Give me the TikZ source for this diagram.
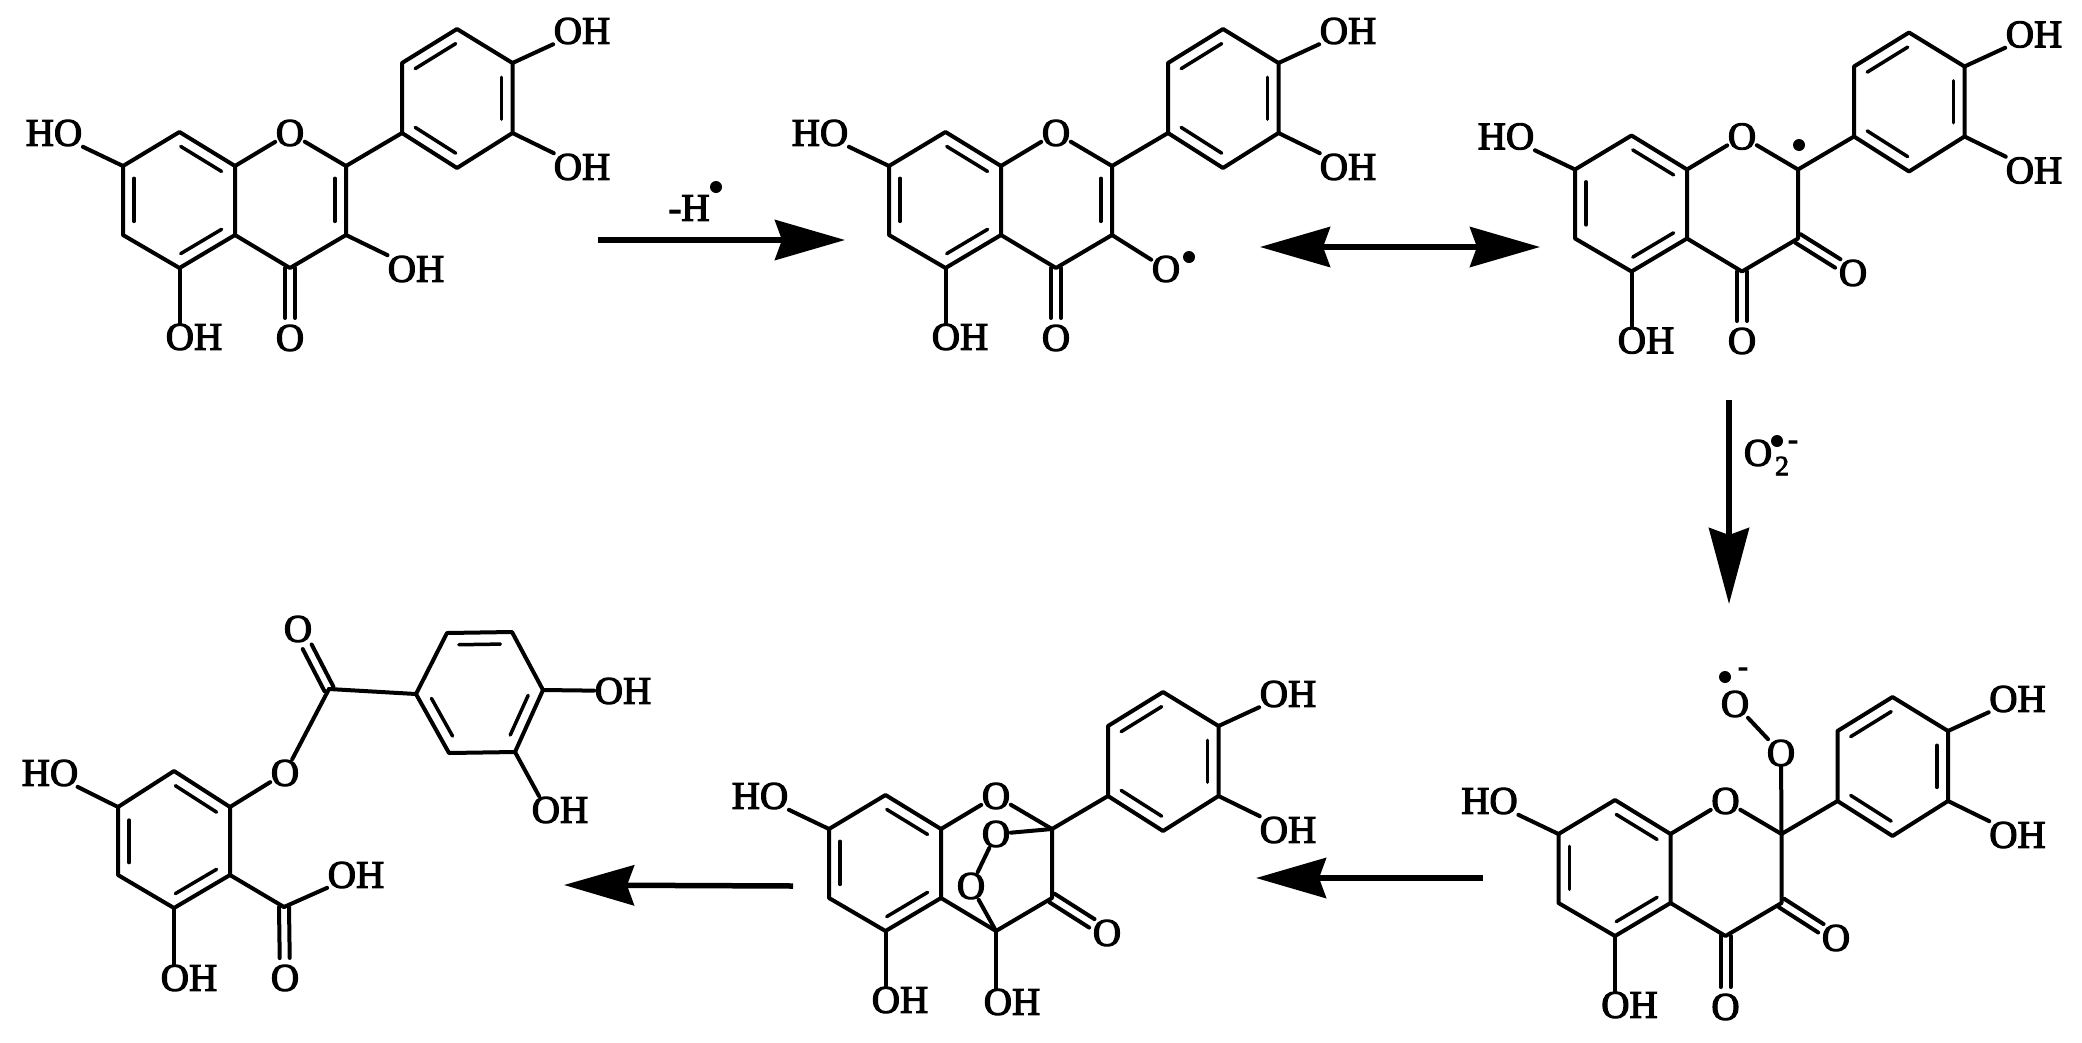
\documentclass[tikz,border=0pt]{standalone}
\usepackage{fontspec}
\setmainfont[FakeBold=3]{Liberation Serif}
\usetikzlibrary{calc,arrows.meta}
\tikzset{
  bond/.style={line width=4pt,line join=round,line cap=round},
  innerbond/.style={line width=3.5pt,line cap=round},
  atom/.style={inner sep=0.5pt,font=\fontsize{39}{39}\selectfont},
  radical/.style={circle,fill=black,inner sep=0pt,minimum size=12pt},
  chg/.style={inner sep=0pt,font=\fontsize{30}{30}\selectfont},
  rxn/.style={line width=5.5pt,-{Stealth[length=70pt,width=40pt,inset=7pt]}},
}
% aromatic inner line: a, b, ring centre, t1, t2
\newcommand{\innerln}[5]{\draw[innerbond] ($(#1)!#4!(#2)!0.2!(#3)$) -- ($(#1)!#5!(#2)!0.2!(#3)$);}
% C=O: carbon, oxygen node, distance to stop before O centre
\newcommand{\carbonyl}[3]{%
  \draw[bond,shorten >=#3] ($(#1)!5pt!90:(#2)$) -- ($(#2)!5pt!-90:(#1)$);
  \draw[bond,shorten >=#3] ($(#1)!5pt!-90:(#2)$) -- ($(#2)!5pt!90:(#1)$);}
% skeleton common to the five flavonoid structures
\newcommand{\flavone}[3]{%
\begin{scope}[shift={(#2,#3)}]
  \coordinate (#1c8a) at (-55,33);   \coordinate (#1c8) at (-110.5,-1);
  \coordinate (#1c7) at (-167,33);   \coordinate (#1c6) at (-167,102);
  \coordinate (#1c5) at (-110.5,135);\coordinate (#1c4a) at (-55,102);
  \coordinate (#1c4) at (0,135);     \coordinate (#1c3) at (56,102);
  \coordinate (#1c2) at (56,33);     \coordinate (#1b1) at (112,0);
  \coordinate (#1b6) at (112,-70);   \coordinate (#1b5) at (167,-104);
  \coordinate (#1b4) at (222.5,-70); \coordinate (#1b3) at (222.5,0);
  \coordinate (#1b2) at (167,35);
  \coordinate (#1ca) at (-111,67);   \coordinate (#1cc) at (0,67);
  \coordinate (#1cb) at (167,-35);
  \node[atom] (#1O) at (0,0) {O};
  \node[atom] (#1HO) at (-236,0) {HO};
  \node[atom] (#1OHa) at (292,-102) {OH};
  \node[atom] (#1OHb) at (292,34) {OH};
  \node[atom] (#1OHc) at (-96,204) {OH};
\end{scope}
\draw[bond] (#1c8a) -- (#1c8) -- (#1c7) -- (#1c6) -- (#1c5) -- (#1c4a) -- cycle;
\draw[bond] (#1c4a) -- (#1c4) -- (#1c3) -- (#1c2) -- (#1b1);
\draw[bond] (#1b1) -- (#1b6) -- (#1b5) -- (#1b4) -- (#1b3) -- (#1b2) -- cycle;
\draw[bond] (#1c8a) -- (#1O);
\draw[bond] (#1c2) -- (#1O);
\draw[bond] (#1c7) -- (#1HO);
\draw[bond] (#1b4) -- (#1OHa);
\draw[bond] (#1b3) -- (#1OHb);
\draw[bond] (#1c5) -- (#1c5 |- #1OHc.north);
\innerln{#1c7}{#1c6}{#1ca}{.1}{.88}
\innerln{#1c8}{#1c8a}{#1ca}{.03}{.95}
\innerln{#1c5}{#1c4a}{#1ca}{.03}{.95}
\innerln{#1b5}{#1b6}{#1cb}{.03}{.95}
\innerln{#1b4}{#1b3}{#1cb}{.13}{.88}
\innerln{#1b2}{#1b1}{#1cb}{.03}{.95}
}
\begin{document}
\begin{tikzpicture}[x=1pt,y=-1pt]
\path[fill=white,use as bounding box] (0,0) rectangle (2082,1042);

% ---------- structure 1
\flavone{a}{290}{133}
\node[atom] (aOH3) at (416,269) {OH};
\node[atom] (aO4) at (290,338) {O};
\draw[bond] (ac3) -- (aOH3);
\carbonyl{ac4}{aO4}{20pt}
\innerln{ac2}{ac3}{acc}{.1}{.88}

% ---------- structure 2
\flavone{b}{1056}{133}
\node[atom] (bO3) at (1166,269) {O};
\node[radical] (bdot) at (1189,257) {};
\node[atom] (bO4) at (1056,338) {O};
\draw[bond] (bc3) -- (bO3);
\carbonyl{bc4}{bO4}{20pt}
\innerln{bc2}{bc3}{bcc}{.1}{.88}

% ---------- structure 3
\flavone{c}{1742}{136.5}
\node[atom] (cO4) at (1742,341) {O};
\node[atom] (cO3) at (1853,273) {O};
\node[radical] (cdot) at (1799,145) {};
\carbonyl{cc4}{cO4}{20pt}
\carbonyl{cc3}{cO3}{18pt}

% ---------- structure 4
\flavone{d}{1725.5}{801}
\node[atom] (dO4) at (1725.5,1007) {O};
\node[atom] (dO3) at (1836,938) {O};
\node[atom] (dOa) at (1781,753) {O};
\node[atom] (dOb) at (1735,704) {O};
\node[radical] (ddot) at (1725,677) {};
\node[chg] (dminus) at (1743,672) {-};
\draw[bond] (dc2) -- (dOa);
\draw[bond] (dOa) -- (dOb);
\carbonyl{dc4}{dO4}{20pt}
\carbonyl{dc3}{dO3}{18pt}

% ---------- structure 5
\flavone{e}{996}{796}
\node[atom] (eO3) at (1107,933) {O};
\node[atom] (eOH4) at (1012,1002) {OH};
\node[atom] (eOa) at (996,834) {O};
\node[atom] (eOb) at (971,886) {O};
\draw[bond] (ec2) -- (eOa);
\draw[bond] (eOa) -- (eOb);
\draw[bond] (eOb) -- (ec4);
\draw[bond] (ec4) -- (ec4 |- eOH4.north);
\carbonyl{ec3}{eO3}{18pt}

% ---------- structure 6
\coordinate (f1) at (174,771); \coordinate (f2) at (230,807);
\coordinate (f3) at (230,875); \coordinate (f4) at (174,908);
\coordinate (f5) at (118,875); \coordinate (f6) at (118,807);
\coordinate (fca) at (174,840);
\coordinate (g1) at (416,694); \coordinate (g2) at (447,633);
\coordinate (g3) at (512,632); \coordinate (g4) at (543,690);
\coordinate (g5) at (515,752); \coordinate (g6) at (449,753);
\coordinate (gc) at (480,692);
\coordinate (fC) at (329,689); \coordinate (fD) at (284,907);
\node[atom] (fHO) at (50,773) {HO};
\node[atom] (fO) at (285,773) {O};
\node[atom] (fOc) at (298,629) {O};
\node[atom] (fOHa) at (623,691) {OH};
\node[atom] (fOHb) at (560,810) {OH};
\node[atom] (fOHc) at (356,875) {OH};
\node[atom] (fOd) at (285,978) {O};
\node[atom] (fOHd) at (189,978) {OH};
\draw[bond] (f1) -- (f2) -- (f3) -- (f4) -- (f5) -- (f6) -- cycle;
\draw[bond] (g1) -- (g2) -- (g3) -- (g4) -- (g5) -- (g6) -- cycle;
\draw[bond] (f6) -- (fHO);
\draw[bond] (f2) -- (fO);
\draw[bond] (fO) -- (fC);
\draw[bond] (fC) -- (g1);
\draw[bond] (g4) -- (fOHa);
\draw[bond] (g5) -- ($(fOHb.north west)+(8,0)$);
\draw[bond] (f3) -- (fD);
\draw[bond] (fD) -- (fOHc);
\draw[bond] (f4) -- (f4 |- fOHd.north);
\carbonyl{fC}{fOc}{20pt}
\carbonyl{fD}{fOd}{20pt}
\innerln{f1}{f2}{fca}{.03}{.95}
\innerln{f5}{f6}{fca}{.1}{.88}
\innerln{f4}{f3}{fca}{.03}{.95}
\innerln{g2}{g3}{gc}{.1}{.9}
\innerln{g1}{g6}{gc}{.1}{.9}
\innerln{g4}{g5}{gc}{.1}{.9}

% ---------- arrows
\coordinate (r1s) at (598,240); \coordinate (r1e) at (845,240);
\draw[rxn] (r1s) -- (r1e);
\node[inner sep=0pt,font=\fontsize{39}{39}\selectfont] (r1lab) at (689,208) {-H};
\node[radical] (r1dot) at (716,187) {};

\coordinate (r2s) at (1260,247); \coordinate (r2e) at (1540,247);
\draw[line width=5.5pt,{Stealth[length=70pt,width=40pt,inset=7pt]}-{Stealth[length=70pt,width=40pt,inset=7pt]}] (r2s) -- (r2e);

\coordinate (r3s) at (1729,400); \coordinate (r3e) at (1729,604);
\draw[rxn,-{Stealth[length=76pt,width=40pt,inset=7pt]}] (r3s) -- (r3e);
\node[atom] (r3O) at (1758,453) {O};
\node[inner sep=0pt,font=\fontsize{28}{28}\selectfont] (r3two) at (1782,466) {2};
\node[radical] (r3dot) at (1777,441) {};
\node[chg] (r3minus) at (1793,445) {-};

\coordinate (r4s) at (1483,878); \coordinate (r4e) at (1256,878);
\draw[rxn] (r4s) -- (r4e);
\coordinate (r5s) at (793,886); \coordinate (r5e) at (564,885);
\draw[rxn] (r5s) -- (r5e);
\end{tikzpicture}
\end{document}
